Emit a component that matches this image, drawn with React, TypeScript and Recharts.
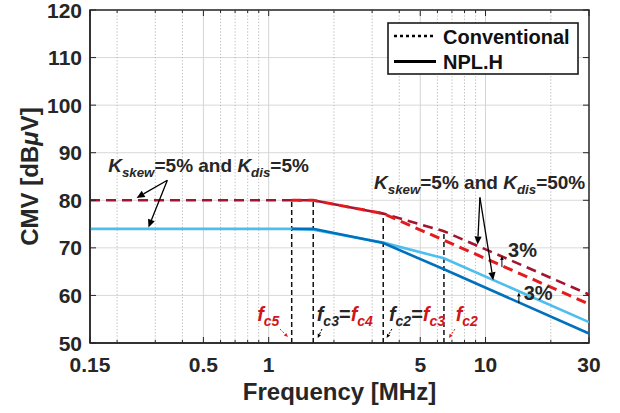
import React from "react";
import {
  CartesianGrid,
  Line,
  LineChart,
  ReferenceArea,
  ReferenceDot,
  ReferenceLine,
  XAxis,
  YAxis,
} from "recharts";

const FONT = "'Liberation Sans', Arial, Helvetica, sans-serif";
const INK = "#262626";
const RED_TXT = "#d0161b";

// frequency break points [MHz]
const freq = [0.15, 1.277, 1.605, 3.375, 6.43, 30];
// Conventional (dashed)
const convDark = [80, 80, 80, 77.2, 73.5, 60.2];
const convRed = [null, 80, 80, 77.2, 71.6, 58.2];
// NPL.H (solid)
const nplLight = [74, 74, 73.8, 71.1, 67.8, 54.4];
const nplDark = [null, 74, 74, 71, 65.5, 52];

const xTicks = [0.15, 0.5, 1, 5, 10, 30];
const xMinor = [0.2, 0.3, 0.4, 0.6, 0.7, 0.8, 0.9, 2, 3, 4, 6, 7, 8, 9, 20];
const yTicks = [50, 60, 70, 80, 90, 100, 110, 120];

// corner frequency markers (black dashed verticals)
const cornerF = [1.277, 1.605, 3.375, 6.43];
const cornerTop = [80, 80, 77.2, 73.5];

const data = freq.map((f, i) => ({
  f,
  convDark: convDark[i],
  convRed: convRed[i],
  nplLight: nplLight[i],
  nplDark: nplDark[i],
}));

const allXTicks = [...xTicks, ...xMinor].sort((a, b) => a - b);

const PLOT_W = 499;
const PLOT_H = 333;

type Part = { t: string; sub?: boolean; it?: boolean; c?: string };

function Rich({ x, y, parts, size }: { x: number; y: number; parts: Part[]; size: number }) {
  let prevSub = false;
  return (
    <text x={x} y={y} fontFamily={FONT} fontWeight="bold" fontSize={size} fill={INK} style={{ whiteSpace: "pre" }}>
      {parts.map((p, i) => {
        const sub = !!p.sub;
        const dy = sub && !prevSub ? size * 0.25 : !sub && prevSub ? -size * 0.25 : 0;
        prevSub = sub;
        return (
          <tspan
            key={i}
            dy={dy}
            fontSize={sub ? size * 0.7 : size}
            fontStyle={p.it ? "italic" : "normal"}
            fill={p.c ?? INK}
          >
            {p.t}
          </tspan>
        );
      })}
    </text>
  );
}

function Arrow(p: any) {
  const { x1, y1, x2, y2, color, head, width, dash } = p;
  const ang = Math.atan2(y2 - y1, x2 - x1);
  const L = head;
  const W = head * 0.45;
  const bx = x2 - L * Math.cos(ang);
  const by = y2 - L * Math.sin(ang);
  const px = -Math.sin(ang) * W;
  const py = Math.cos(ang) * W;
  return (
    <g>
      <line x1={x1} y1={y1} x2={bx} y2={by} stroke={color} strokeWidth={width} strokeDasharray={dash} />
      <polygon points={`${x2},${y2} ${bx + px},${by + py} ${bx - px},${by - py}`} fill={color} />
    </g>
  );
}

function XTick(props: any) {
  const { x, y, payload } = props;
  const v = payload.value;
  const major = xTicks.includes(v);
  const len = major ? 6 : 3;
  const top = y - PLOT_H;
  return (
    <g>
      <line x1={x} y1={y} x2={x} y2={y - len} stroke={INK} strokeWidth={1} />
      <line x1={x} y1={top} x2={x} y2={top + len} stroke={INK} strokeWidth={1} />
      {major && (
        <text x={x} y={y + 29} textAnchor="middle" fontFamily={FONT} fontWeight="bold" fontSize={21} fill={INK}>
          {v}
        </text>
      )}
    </g>
  );
}

function YTick(props: any) {
  const { x, y, payload } = props;
  return (
    <g>
      <line x1={x} y1={y} x2={x + 6} y2={y} stroke={INK} strokeWidth={1} />
      <line x1={x + PLOT_W} y1={y} x2={x + PLOT_W - 6} y2={y} stroke={INK} strokeWidth={1} />
      <text x={x - 8} y={y + 7.5} textAnchor="end" fontFamily={FONT} fontWeight="bold" fontSize={21} fill={INK}>
        {payload.value}
      </text>
    </g>
  );
}

const kLow: Part[] = [
  { t: "K", it: true },
  { t: "skew", sub: true, it: true },
  { t: "=5% and " },
  { t: "K", it: true },
  { t: "dis", sub: true, it: true },
  { t: "=5%" },
];
const kHigh: Part[] = [
  { t: "K", it: true },
  { t: "skew", sub: true, it: true },
  { t: "=5% and " },
  { t: "K", it: true },
  { t: "dis", sub: true, it: true },
  { t: "=50%" },
];
const fc5: Part[] = [
  { t: "f", it: true, c: RED_TXT },
  { t: "c5", sub: true, it: true, c: RED_TXT },
];
const fc3fc4: Part[] = [
  { t: "f", it: true },
  { t: "c3", sub: true, it: true },
  { t: "=" },
  { t: "f", it: true, c: RED_TXT },
  { t: "c4", sub: true, it: true, c: RED_TXT },
];
const fc2fc3: Part[] = [
  { t: "f", it: true },
  { t: "c2", sub: true, it: true },
  { t: "=" },
  { t: "f", it: true, c: RED_TXT },
  { t: "c3", sub: true, it: true, c: RED_TXT },
];
const fc2: Part[] = [
  { t: "f", it: true, c: RED_TXT },
  { t: "c2", sub: true, it: true, c: RED_TXT },
];

// text labels: [freq, value, parts, size]
const labels: [number, number, Part[], number][] = [
  [0.182, 85.96, kLow, 19],
  [3.06, 82.4, kHigh, 19],
  [12.7, 68.05, [{ t: "3%" }], 20],
  [15.0, 59.0, [{ t: "3%" }], 20],
  [0.885, 54.6, fc5, 20],
  [1.665, 54.6, fc3fc4, 20],
  [3.585, 54.6, fc2fc3, 20],
  [7.28, 54.6, fc2, 20],
];

// arrows: [f1, v1, f2, v2, color, head, width, dash]
const arrows: [number, number, number, number, string, number, number, string | undefined][] = [
  [0.341, 84.2, 0.246, 80.5, "#000", 8, 1.3, undefined],
  [0.341, 84.2, 0.279, 74.3, "#000", 8, 1.3, undefined],
  [9.42, 80.6, 9.2, 70.7, "#000", 8, 1.3, undefined],
  [9.42, 80.6, 10.85, 63.2, "#000", 8, 1.3, undefined],
  [11.9, 65.95, 11.9, 68.3, "#000", 4, 1, undefined],
  [14.25, 58.4, 14.25, 60.6, "#000", 4, 1, undefined],
  [1.127, 52.94, 1.227, 51.26, "#e41a1c", 4, 1, "2 1.5"],
  [1.761, 52.94, 1.683, 51.05, "#000", 4, 1, "2 1.5"],
  [3.7, 52.94, 3.5, 51.05, "#000", 4, 1, "2 1.5"],
  [7.23, 52.94, 6.78, 51.05, "#e41a1c", 4, 1, "2 1.5"],
];

function LegendBox() {
  return (
    <svg
      width={190}
      height={52}
      style={{ position: "absolute", left: 388, top: 23, overflow: "visible" }}
    >
      <rect x={0} y={0} width={190} height={51} fill="#fff" stroke="#1a1a1a" strokeWidth={1.6} />
      <line x1={6} y1={13} x2={48} y2={13} stroke="#000" strokeWidth={2.6} strokeDasharray="3 3" />
      <line x1={6} y1={38.5} x2={48} y2={38.5} stroke="#000" strokeWidth={3} />
      <text x={55} y={21} fontFamily={FONT} fontWeight="bold" fontSize={20} fill="#111">
        Conventional
      </text>
      <text x={55} y={45.5} fontFamily={FONT} fontWeight="bold" fontSize={20} fill="#111">
        NPL.H
      </text>
    </svg>
  );
}

export default function App() {
  return (
    <div style={{ position: "absolute", left: 0, top: 0, width: 620, height: 413, background: "#fff" }}>
      <LineChart width={620} height={413} data={data} margin={{ top: 10, right: 31, left: 0, bottom: 0 }}>
        <CartesianGrid vertical={false} stroke="#d9d9d9" strokeWidth={1} />
        {xMinor.map((f) => (
          <ReferenceLine key={`mn-${f}`} x={f} stroke="#b8b8b8" strokeWidth={1} strokeDasharray="1.2 2" />
        ))}
        {xTicks.slice(1, -1).map((f) => (
          <ReferenceLine key={`mj-${f}`} x={f} stroke="#d4d4d4" strokeWidth={1} />
        ))}
        <XAxis
          dataKey="f"
          type="number"
          scale="log"
          domain={[0.15, 30]}
          allowDataOverflow
          ticks={allXTicks}
          interval={0}
          tickSize={0}
          tickMargin={0}
          tickLine={false}
          tick={(p: any) => <XTick {...p} />}
          axisLine={{ stroke: INK, strokeWidth: 1.5 }}
          height={70}
          label={{
            content: (p: any) => {
              const vb = p.viewBox;
              return (
                <text
                  x={vb.x + vb.width / 2}
                  y={vb.y + 57}
                  textAnchor="middle"
                  fontFamily={FONT}
                  fontWeight="bold"
                  fontSize={24}
                  fill={INK}
                >
                  Frequency [MHz]
                </text>
              );
            },
          }}
        />
        <YAxis
          type="number"
          domain={[50, 120]}
          allowDataOverflow
          ticks={yTicks}
          interval={0}
          tickSize={0}
          tickMargin={0}
          tickLine={false}
          tick={(p: any) => <YTick {...p} />}
          axisLine={{ stroke: INK, strokeWidth: 1.5 }}
          width={90}
          label={{
            content: (p: any) => {
              const vb = p.viewBox;
              const cx = vb.x + 38;
              const cy = vb.y + vb.height / 2;
              return (
                <text
                  x={cx}
                  y={cy}
                  transform={`rotate(-90, ${cx}, ${cy})`}
                  textAnchor="middle"
                  fontFamily={FONT}
                  fontWeight="bold"
                  fontSize={24}
                  fill={INK}
                >
                  CMV [dB<tspan fontStyle="italic">μ</tspan>V]
                </text>
              );
            },
          }}
        />
        <ReferenceArea x1={0.15} x2={30} y1={50} y2={120} fill="none" stroke={INK} strokeWidth={1.5} />
        {cornerF.map((f, i) => (
          <ReferenceLine
            key={`c-${f}`}
            segment={[
              { x: f, y: 50 },
              { x: f, y: cornerTop[i] },
            ]}
            stroke="#111"
            strokeWidth={1.5}
            strokeDasharray="5 3"
          />
        ))}
        <Line
          dataKey="convDark"
          stroke="#a2142f"
          strokeWidth={2.6}
          strokeDasharray="10 6"
          dot={false}
          isAnimationActive={false}
        />
        <Line
          dataKey="convRed"
          stroke="#e41a1c"
          strokeWidth={3}
          strokeDasharray="10 6"
          dot={false}
          isAnimationActive={false}
        />
        <Line dataKey="nplLight" stroke="#4dbeee" strokeWidth={2.6} dot={false} isAnimationActive={false} />
        <Line dataKey="nplDark" stroke="#0072bd" strokeWidth={2.6} dot={false} isAnimationActive={false} />
        {arrows.map(([f1, v1, f2, v2, color, head, width, dash], i) => (
          <ReferenceLine
            key={`a-${i}`}
            segment={[
              { x: f1, y: v1 },
              { x: f2, y: v2 },
            ]}
            shape={(p: any) => (
              <Arrow x1={p.x1} y1={p.y1} x2={p.x2} y2={p.y2} color={color} head={head} width={width} dash={dash} />
            )}
          />
        ))}
        {labels.map(([f, v, parts, size], i) => (
          <ReferenceDot
            key={`l-${i}`}
            x={f}
            y={v}
            r={0}
            shape={(p: any) => <Rich x={p.cx} y={p.cy} parts={parts} size={size} />}
          />
        ))}
      </LineChart>
      <LegendBox />
    </div>
  );
}
